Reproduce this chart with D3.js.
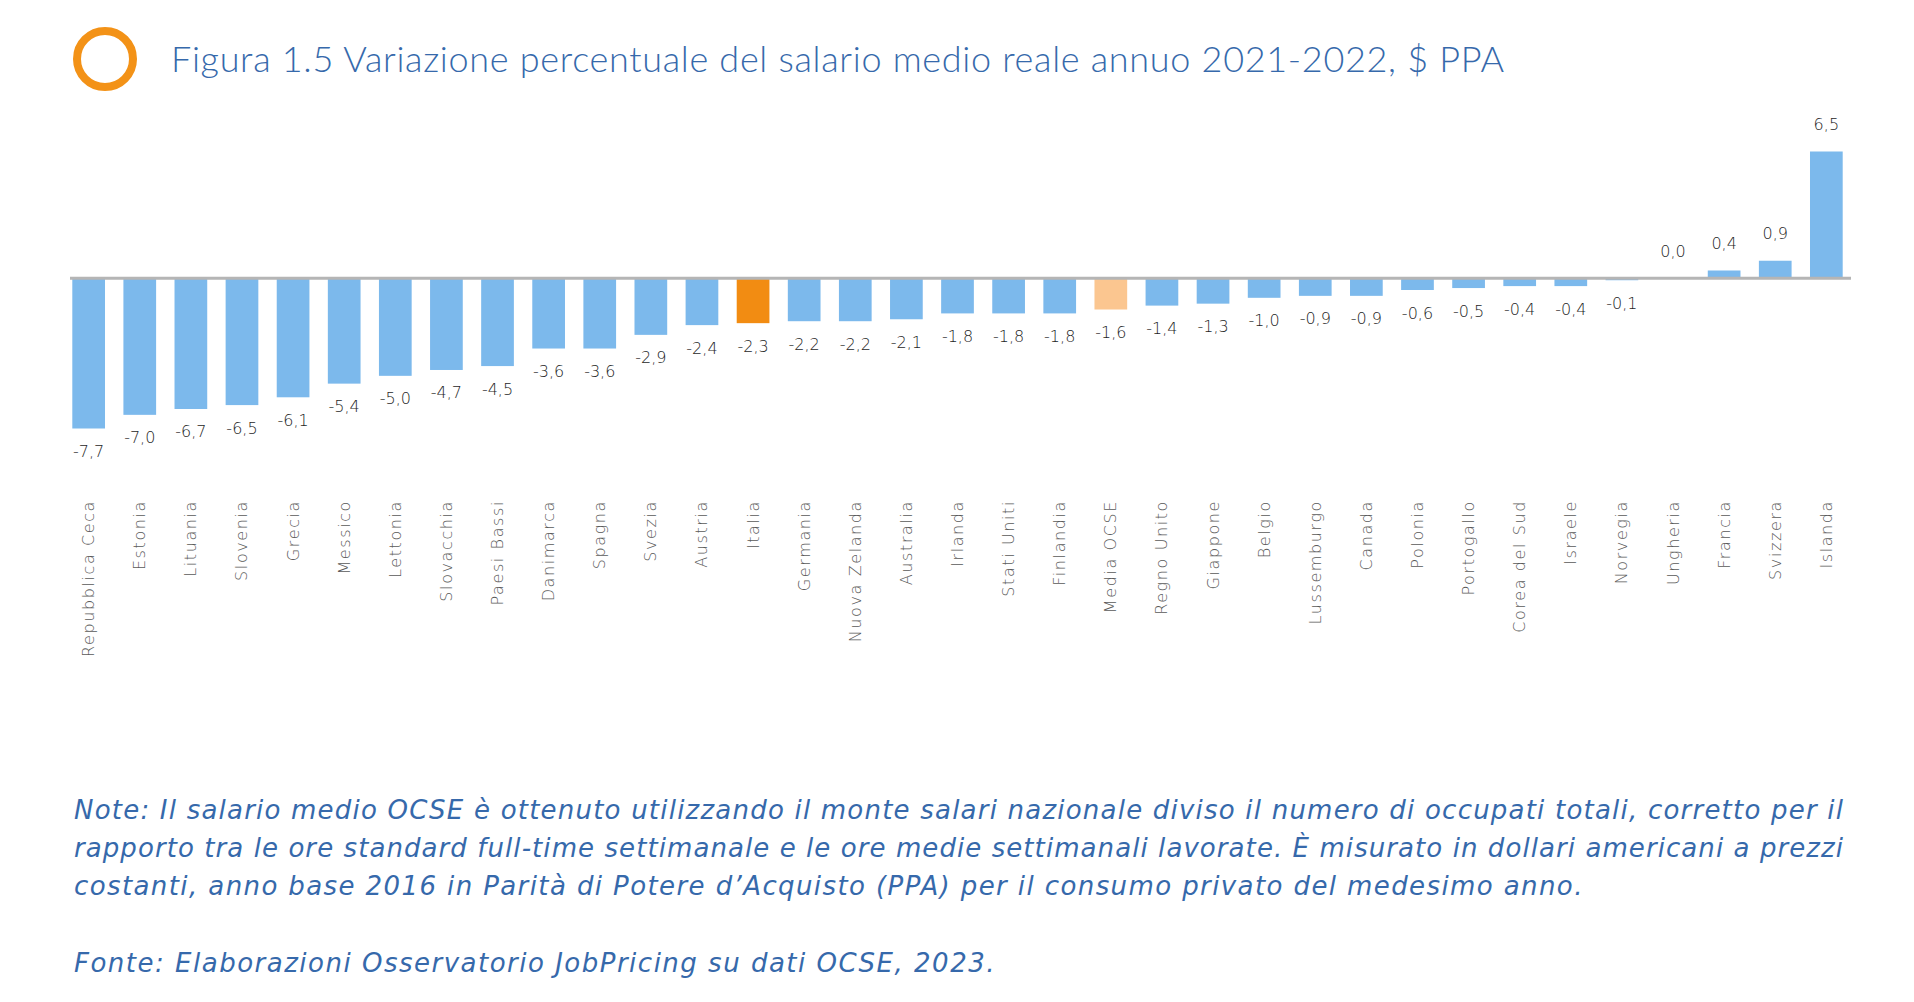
<!DOCTYPE html>
<html>
<head>
<meta charset="utf-8">
<script src="https://cdn.jsdelivr.net/npm/d3@7"></script>
<style>
  html, body { margin: 0; padding: 0; background: #ffffff; }
  svg { display: block; }
</style>
</head>
<body>
<svg id="chart" width="1914" height="1002"></svg>
<script>
const categories = ["Repubblica Ceca","Estonia","Lituania","Slovenia","Grecia","Messico","Lettonia","Slovacchia","Paesi Bassi","Danimarca","Spagna","Svezia","Austria","Italia","Germania","Nuova Zelanda","Australia","Irlanda","Stati Uniti","Finlandia","Media OCSE","Regno Unito","Giappone","Belgio","Lussemburgo","Canada","Polonia","Portogallo","Corea del Sud","Israele","Norvegia","Ungheria","Francia","Svizzera","Islanda"];
const values = [-7.7,-7.0,-6.7,-6.5,-6.1,-5.4,-5.0,-4.7,-4.5,-3.6,-3.6,-2.9,-2.4,-2.3,-2.2,-2.2,-2.1,-1.8,-1.8,-1.8,-1.6,-1.4,-1.3,-1.0,-0.9,-0.9,-0.6,-0.5,-0.4,-0.4,-0.1,0.0,0.4,0.9,6.5];
const highlightItaly = "Italia";
const highlightAverage = "Media OCSE";
const titleText = "Figura 1.5 Variazione percentuale del salario medio reale annuo 2021-2022, $ PPA";
const noteLines = [
  "Note: Il salario medio OCSE è ottenuto utilizzando il monte salari nazionale diviso il numero di occupati totali, corretto per il",
  "rapporto tra le ore standard full-time settimanale e le ore medie settimanali lavorate. È misurato in dollari americani a prezzi",
  "costanti, anno base 2016 in Parità di Potere d’Acquisto (PPA) per il consumo privato del medesimo anno."
];
const sourceText = "Fonte: Elaborazioni Osservatorio JobPricing su dati OCSE, 2023.";

const data = categories.map((c, i) => ({ cat: c, val: values[i] }));

const svg = d3.select("#chart");
const W = 1914, H = 1002;
svg.append("rect").attr("width", W).attr("height", H).attr("fill", "#ffffff");

const blue = "#7cb9ec", orange = "#f28c12", lightOrange = "#fbc690";
const textBlue = "#3669ab";

// Title
svg.append("circle").attr("cx", 105).attr("cy", 59).attr("r", 28)
  .attr("fill", "none").attr("stroke", "#f39217").attr("stroke-width", 8);
svg.append("text").attr("x", 171).attr("y", 72)
  .attr("font-family", "Lato, 'Open Sans', sans-serif").attr("font-weight", 300)
  .attr("font-size", 36).attr("fill", textBlue)
  .attr("textLength", 1333).attr("lengthAdjust", "spacing")
  .text(titleText);

// Scales
const x = d3.scaleBand().domain(categories).range([63.1, 1851.9]).paddingInner(0.36).paddingOuter(0.18);
const y = d3.scaleLinear().domain([-7.7, 6.5]).range([428.5, 151.5]);

const fmt = d3.formatLocale({ decimal: ",", thousands: ".", grouping: [3], currency: ["", "€"], minus: "-" }).format(".1f");

// Bars
svg.append("g").selectAll("rect").data(data).join("rect")
  .attr("x", d => x(d.cat))
  .attr("width", x.bandwidth())
  .attr("y", d => y(Math.max(0, d.val)))
  .attr("height", d => Math.abs(y(d.val) - y(0)))
  .attr("fill", d => d.cat === highlightItaly ? orange : d.cat === highlightAverage ? lightOrange : blue);

// Zero line
svg.append("line").attr("x1", 70).attr("x2", 1851).attr("y1", y(0)).attr("y2", y(0))
  .attr("stroke", "#b5b5b5").attr("stroke-width", 3);

// Value labels
svg.append("g").selectAll("text").data(data).join("text")
  .attr("x", d => x(d.cat) + x.bandwidth() / 2)
  .attr("y", d => d.val < 0 ? y(d.val) + 23 : y(d.val) - 27)
  .attr("text-anchor", "middle").attr("dominant-baseline", "central")
  .attr("font-family", "'DejaVu Sans', sans-serif").attr("font-weight", 200)
  .attr("font-size", 16).attr("fill", "#1e1e1e")
  .text(d => fmt(d.val));

// Category labels
const xAxis = d3.axisBottom(x).tickSize(0).tickPadding(0);
const gx = svg.append("g").attr("transform", `translate(0,${y(0)})`).call(xAxis);
gx.select(".domain").remove();
gx.selectAll(".tick text")
  .attr("transform", `translate(0,${500 - y(0)}) rotate(-90)`)
  .attr("x", 0).attr("y", 0).attr("dy", null)
  .attr("text-anchor", "end").attr("dominant-baseline", "central")
  .attr("font-family", "'DejaVu Sans', sans-serif").attr("font-weight", 200)
  .attr("font-size", 16).attr("letter-spacing", 1.6).attr("fill", "#5a5a5a");

// Notes
const notes = svg.append("g").attr("font-family", "'DejaVu Sans', sans-serif")
  .attr("font-style", "italic").attr("font-weight", 200).attr("font-size", 26).attr("fill", textBlue);
const lineY = [819, 857, 895];
const lineLen = [1769, 1769, null];
noteLines.forEach((t, i) => {
  const tx = notes.append("text").attr("x", 74).attr("y", lineY[i]).text(t);
  if (lineLen[i]) tx.attr("textLength", lineLen[i]).attr("lengthAdjust", "spacing");
  else tx.attr("letter-spacing", 1.4);
});
notes.append("text").attr("x", 74).attr("y", 972).attr("letter-spacing", 1.5).text(sourceText);
</script>
</body>
</html>
